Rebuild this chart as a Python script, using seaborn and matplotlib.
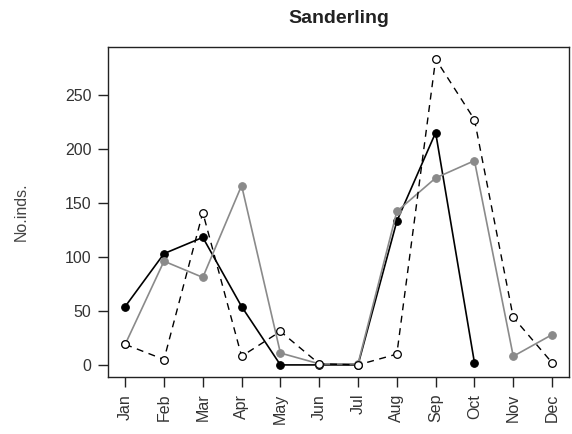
import numpy as np
import pandas as pd
import matplotlib
matplotlib.use("Agg")
import matplotlib.pyplot as plt
import seaborn as sns

# dados
months = ['Jan', 'Feb', 'Mar', 'Apr', 'May', 'Jun', 'Jul', 'Aug', 'Sep', 'Oct', 'Nov', 'Dec']
black_vals = [54, 103, 118, 54, 0, 0, 0, 133, 215, 2, np.nan, np.nan]
grey_vals = [19, 96, 81, 166, 11, 1, 1, 142, 173, 189, 8, 28]
open_vals = [19, 5, 141, 8, 31, 1, 0, 10, 283, 227, 44, 2]
y_ticks = [0, 50, 100, 150, 200, 250]

sns.set_style("ticks")
plt.rcParams['font.family'] = ['Liberation Sans', 'DejaVu Sans']

x = np.arange(1, 13)
df = pd.DataFrame({'month': x, 'black': black_vals, 'grey': grey_vals, 'open': open_vals})

fig = plt.figure(figsize=(5.72, 4.34), dpi=100)
ax = fig.add_axes([0.189, 0.131, 0.806, 0.761])

sns.lineplot(data=df.dropna(subset=['black']), x='month', y='black', ax=ax, color='black',
             lw=1.2, marker='o', markersize=5.5, markeredgecolor='black', markerfacecolor='black')
sns.lineplot(data=df, x='month', y='grey', ax=ax, color='#8a8a8a',
             lw=1.2, marker='o', markersize=5.5, markeredgecolor='#8a8a8a', markerfacecolor='#8a8a8a')
sns.lineplot(data=df, x='month', y='open', ax=ax, color='black', linestyle=(0, (5, 4)),
             lw=1.0, marker='o', markersize=5.5, markeredgecolor='black', markerfacecolor='white',
             markeredgewidth=0.9)

ymax = np.nanmax(open_vals)
pad = 0.04 * ymax
ax.set_ylim(-pad, ymax + pad)
ax.set_xlim(1 - 0.44, 12 + 0.44)
ax.set_xticks(x)
ax.set_xticklabels(months, rotation=90, fontsize=11.5)
ax.set_yticks(y_ticks)
ax.set_yticklabels([str(v) for v in y_ticks], fontsize=11.5)
ax.tick_params(direction='out', length=7, width=1.0, pad=5, colors='#222222', labelcolor='#333333')
for s in ax.spines.values():
    s.set_visible(True)
    s.set_color('#222222')
    s.set_linewidth(1.0)

ax.set_xlabel('')
ax.set_ylabel('No.inds.', fontsize=11.5, labelpad=26, color='#444444')
ax.set_title('Sanderling', fontsize=14, fontweight='bold', pad=17, color='#222222')

fig.savefig('out.png', dpi=100)
